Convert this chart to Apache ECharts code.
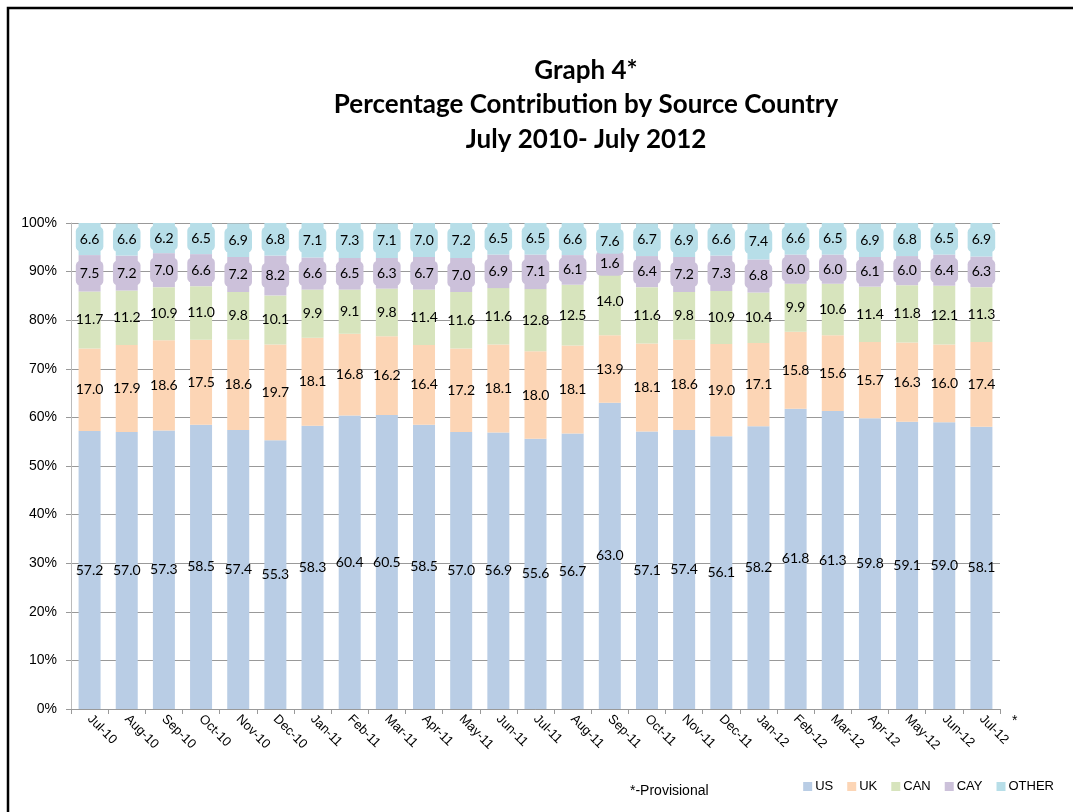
<!DOCTYPE html>
<html>
<head>
<meta charset="utf-8">
<script src="https://cdn.jsdelivr.net/npm/echarts@6/dist/echarts.min.js"></script>
<style>
  html, body { margin: 0; padding: 0; background: #fff; }
  #main { width: 1073px; height: 812px; }
</style>
</head>
<body>
<div id="main"></div>
<script>
var months = ['Jul-10', 'Aug-10', 'Sep-10', 'Oct-10', 'Nov-10', 'Dec-10', 'Jan-11', 'Feb-11', 'Mar-11',
  'Apr-11', 'May-11', 'Jun-11', 'Jul-11', 'Aug-11', 'Sep-11', 'Oct-11', 'Nov-11', 'Dec-11', 'Jan-12',
  'Feb-12', 'Mar-12', 'Apr-12', 'May-12', 'Jun-12', 'Jul-12'];

var us = [57.2, 57.0, 57.3, 58.5, 57.4, 55.3, 58.3, 60.4, 60.5, 58.5, 57.0, 56.9, 55.6, 56.7, 63.0,
  57.1, 57.4, 56.1, 58.2, 61.8, 61.3, 59.8, 59.1, 59.0, 58.1];
var uk = [17.0, 17.9, 18.6, 17.5, 18.6, 19.7, 18.1, 16.8, 16.2, 16.4, 17.2, 18.1, 18.0, 18.1, 13.9,
  18.1, 18.6, 19.0, 17.1, 15.8, 15.6, 15.7, 16.3, 16.0, 17.4];
var can = [11.7, 11.2, 10.9, 11.0, 9.8, 10.1, 9.9, 9.1, 9.8, 11.4, 11.6, 11.6, 12.8, 12.5, 14.0,
  11.6, 9.8, 10.9, 10.4, 9.9, 10.6, 11.4, 11.8, 12.1, 11.3];
var cay = [7.5, 7.2, 7.0, 6.6, 7.2, 8.2, 6.6, 6.5, 6.3, 6.7, 7.0, 6.9, 7.1, 6.1, 1.6,
  6.4, 7.2, 7.3, 6.8, 6.0, 6.0, 6.1, 6.0, 6.4, 6.3];
var other = [6.6, 6.6, 6.2, 6.5, 6.9, 6.8, 7.1, 7.3, 7.1, 7.0, 7.2, 6.5, 6.5, 6.6, 7.6,
  6.7, 6.9, 6.6, 7.4, 6.6, 6.5, 6.9, 6.8, 6.5, 6.9];

var yTicks = [0, 10, 20, 30, 40, 50, 60, 70, 80, 90, 100];

var axisFont = 'Liberation Sans';

var chart = echarts.init(document.getElementById('main'));

// one stacked series, label boxes only on the two small top segments
function mkSeries(name, data, color, boxed) {
  var lab = {
    show: true,
    position: 'inside',
    color: '#000',
    fontFamily: 'Lato',
    fontSize: 14,
    formatter: function (p) { return p.value.toFixed(1); }
  };
  if (boxed) {
    lab.backgroundColor = color;
    lab.padding = [6, 4, 5, 4];
    lab.borderRadius = 5;
  }
  return {
    name: name,
    type: 'bar',
    stack: 'all',
    barWidth: 22,
    itemStyle: { color: color },
    label: lab,
    data: data
  };
}

var option = {
  animation: false,
  title: {
    text: 'Graph 4*\nPercentage Contribution by Source Country\nJuly 2010- July 2012',
    left: 581,
    top: 48,
    textAlign: 'center',
    textStyle: {
      fontFamily: 'Lato',
      fontWeight: 'bold',
      fontSize: 26,
      lineHeight: 34.5,
      color: '#000'
    }
  },
  color: ['#b9cde5', '#fcd5b5', '#d7e4bd', '#ccc1da', '#b7dee8'],
  legend: {
    right: 14,
    bottom: 14,
    itemWidth: 9,
    itemHeight: 9,
    itemGap: 14,
    icon: 'rect',
    textStyle: { fontFamily: axisFont, fontSize: 13, color: '#000', padding: [0, 0, 0, -2] },
    data: ['US', 'UK', 'CAN', 'CAY', 'OTHER']
  },
  grid: { left: 71, right: 73, top: 223, bottom: 103 },
  xAxis: {
    type: 'category',
    data: months,
    axisLine: { lineStyle: { color: '#999' } },
    axisTick: { show: true, lineStyle: { color: '#999' }, length: 5 },
    axisLabel: {
      rotate: -45,
      interval: 0,
      fontFamily: axisFont,
      fontSize: 13,
      color: '#000',
      margin: 8
    }
  },
  yAxis: {
    type: 'value',
    min: yTicks[0],
    max: yTicks[yTicks.length - 1],
    interval: 10,
    axisLine: { show: true, lineStyle: { color: '#bbb' } },
    axisTick: { show: true, lineStyle: { color: '#999' }, length: 5 },
    splitLine: { lineStyle: { color: '#999' } },
    axisLabel: {
      formatter: '{value}%',
      fontFamily: axisFont,
      fontSize: 14,
      color: '#000',
      margin: 14
    }
  },
  graphic: [
    { type: 'rect', shape: { x: 8, y: 8, width: 1100, height: 900 },
      style: { fill: 'none', stroke: '#000', lineWidth: 2.5 } },
    { type: 'text', left: 630, top: 784,
      style: { text: '*-Provisional', fontFamily: axisFont, fontSize: 14, fill: '#000' } },
    { type: 'text', left: 1012, top: 714,
      style: { text: '*', fontFamily: axisFont, fontSize: 14, fill: '#000' } }
  ],
  series: [
    mkSeries('US', us, '#b9cde5', false),
    mkSeries('UK', uk, '#fcd5b5', false),
    mkSeries('CAN', can, '#d7e4bd', false),
    mkSeries('CAY', cay, '#ccc1da', true),
    mkSeries('OTHER', other, '#b7dee8', true)
  ]
};

chart.setOption(option);
</script>
</body>
</html>
